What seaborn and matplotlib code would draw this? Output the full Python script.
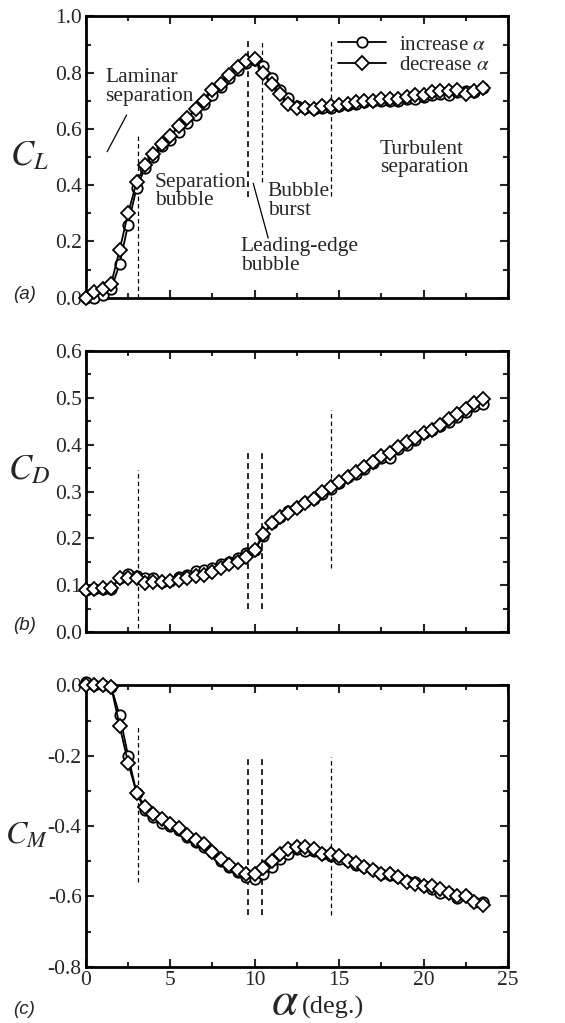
import numpy as np
import pandas as pd
import matplotlib
matplotlib.use('Agg')
import matplotlib.pyplot as plt
from matplotlib.lines import Line2D
from matplotlib.ticker import MultipleLocator, FormatStrFormatter
import seaborn as sns

# angle of attack, 0 to 23.5 deg in 0.5 deg steps
alpha = [0.0, 0.5, 1.0, 1.5, 2.0, 2.5, 3.0, 3.5, 4.0, 4.5, 5.0, 5.5, 6.0, 6.5, 7.0, 7.5,
         8.0, 8.5, 9.0, 9.5, 10.0, 10.5, 11.0, 11.5, 12.0, 12.5, 13.0, 13.5, 14.0, 14.5,
         15.0, 15.5, 16.0, 16.5, 17.0, 17.5, 18.0, 18.5, 19.0, 19.5, 20.0, 20.5, 21.0,
         21.5, 22.0, 22.5, 23.0, 23.5]

cl_inc = [0.0, 0.0, 0.01, 0.03, 0.12, 0.26, 0.39, 0.46, 0.50, 0.54, 0.56, 0.59, 0.62, 0.65,
          0.69, 0.72, 0.75, 0.78, 0.81, 0.835, 0.845, 0.825, 0.78, 0.74, 0.71, 0.68, 0.675,
          0.67, 0.675, 0.675, 0.68, 0.685, 0.69, 0.695, 0.70, 0.70, 0.70, 0.70, 0.705, 0.705,
          0.715, 0.72, 0.725, 0.72, 0.73, 0.735, 0.73, 0.745]
cl_dec = [0.0, 0.02, 0.03, 0.05, 0.17, 0.30, 0.41, 0.47, 0.51, 0.545, 0.575, 0.61, 0.64, 0.67,
          0.70, 0.74, 0.76, 0.79, 0.82, 0.84, 0.85, 0.80, 0.76, 0.725, 0.69, 0.675, 0.675,
          0.67, 0.68, 0.68, 0.685, 0.69, 0.695, 0.70, 0.70, 0.705, 0.705, 0.705, 0.715, 0.72,
          0.72, 0.73, 0.735, 0.735, 0.74, 0.725, 0.735, 0.745]

cd_inc = [0.091, 0.092, 0.092, 0.093, 0.115, 0.125, 0.12, 0.115, 0.115, 0.108, 0.11, 0.117,
          0.122, 0.13, 0.132, 0.137, 0.145, 0.15, 0.158, 0.168, 0.175, 0.205, 0.232, 0.245,
          0.258, 0.268, 0.278, 0.285, 0.295, 0.305, 0.318, 0.33, 0.338, 0.348, 0.36, 0.372,
          0.372, 0.39, 0.40, 0.41, 0.425, 0.432, 0.44, 0.448, 0.46, 0.47, 0.482, 0.487]
cd_dec = [0.09, 0.092, 0.094, 0.095, 0.115, 0.115, 0.115, 0.105, 0.108, 0.108, 0.11, 0.112,
          0.115, 0.12, 0.123, 0.128, 0.138, 0.145, 0.15, 0.16, 0.175, 0.21, 0.232, 0.245,
          0.255, 0.265, 0.275, 0.285, 0.30, 0.31, 0.32, 0.33, 0.342, 0.352, 0.362, 0.375,
          0.382, 0.395, 0.405, 0.415, 0.425, 0.432, 0.443, 0.455, 0.465, 0.475, 0.488, 0.497]

cm_inc = [0.01, 0.0, 0.0, -0.005, -0.085, -0.20, -0.305, -0.355, -0.375, -0.39, -0.40, -0.41,
          -0.43, -0.445, -0.46, -0.475, -0.50, -0.515, -0.53, -0.545, -0.55, -0.535, -0.515,
          -0.495, -0.48, -0.465, -0.47, -0.47, -0.48, -0.485, -0.495, -0.50, -0.51, -0.515,
          -0.525, -0.535, -0.54, -0.545, -0.555, -0.56, -0.57, -0.58, -0.59, -0.59, -0.605,
          -0.60, -0.615, -0.615]
cm_dec = [0.0, 0.0, 0.0, -0.005, -0.115, -0.22, -0.305, -0.345, -0.365, -0.38, -0.395, -0.405,
          -0.425, -0.44, -0.45, -0.475, -0.495, -0.51, -0.525, -0.535, -0.535, -0.52, -0.50,
          -0.48, -0.465, -0.46, -0.46, -0.465, -0.48, -0.48, -0.485, -0.50, -0.505, -0.515,
          -0.525, -0.535, -0.535, -0.545, -0.56, -0.565, -0.57, -0.57, -0.58, -0.59, -0.60,
          -0.60, -0.615, -0.625]

runs = ['increase $\\alpha$', 'decrease $\\alpha$']
regime_alpha = [3.1, 9.6, 10.45, 14.5]

# (ymin, ymax, linewidth) of the dashed regime lines in each panel
cl_vlines = [(0.0, 0.578, 0.9), (0.358, 0.915, 1.2), (0.41, 0.915, 0.9), (0.36, 0.915, 0.9)]
cd_vlines = [(0.01, 0.346, 0.9), (0.05, 0.389, 1.2), (0.05, 0.389, 1.2), (0.137, 0.474, 0.9)]
cm_vlines = [(-0.559, -0.113, 0.9), (-0.652, -0.203, 1.2), (-0.652, -0.203, 1.2), (-0.652, -0.203, 0.9)]

df = pd.DataFrame({
    'alpha': alpha * 2,
    'run': [runs[0]] * len(alpha) + [runs[1]] * len(alpha),
    'CL': cl_inc + cl_dec,
    'CD': cd_inc + cd_dec,
    'CM': cm_inc + cm_dec,
})

sns.set_style('ticks')
plt.rcParams['font.family'] = ['Liberation Serif', 'DejaVu Serif']
plt.rcParams['mathtext.fontset'] = 'stix'
plt.rcParams['axes.unicode_minus'] = False

fig = plt.figure(figsize=(5.65, 10.23), dpi=100)
left, width = 0.152, 0.747
ax_a = fig.add_axes([left, 0.709, width, 0.275])
ax_b = fig.add_axes([left, 0.382, width, 0.275])
ax_c = fig.add_axes([left, 0.055, width, 0.275])

panels = [
    (ax_a, 'CL', (0, 1.0), 0.2, 0.1, cl_vlines, '$C_L$', -0.135, 0.50, 25, '(a)', 0.712),
    (ax_b, 'CD', (0, 0.6), 0.1, 0.05, cd_vlines, '$C_D$', -0.135, 0.575, 25, '(b)', 0.389),
    (ax_c, 'CM', (-0.8, 0.0), 0.2, 0.1, cm_vlines, '$C_M$', -0.14, 0.465, 23, '(c)', 0.013),
]

for ax, col, ylim, major, minor, vls, ylab, ylab_x, ylab_y, ylab_fs, tag, tag_y in panels:
    for a, (y0, y1, lw) in zip(regime_alpha, vls):
        ax.plot([a, a], [y0, y1], color='black', lw=lw, ls=(0, (3.5, 2.5)), zorder=1)
    sns.lineplot(data=df, x='alpha', y=col, hue='run', style='run',
                 markers=['o', 'D'], dashes=False, palette=['black', 'black'],
                 markersize=7.5, linewidth=1.3, legend=False, ax=ax, zorder=3)
    for line in ax.lines[len(vls):]:
        line.set_markerfacecolor('white')
        line.set_markeredgecolor('black')
        line.set_markeredgewidth(1.3)
        line.set_clip_on(False)
    ax.set_xlim(0, 25)
    ax.set_ylim(*ylim)
    ax.xaxis.set_major_locator(MultipleLocator(5))
    ax.xaxis.set_minor_locator(MultipleLocator(2.5))
    ax.yaxis.set_major_locator(MultipleLocator(major))
    ax.yaxis.set_minor_locator(MultipleLocator(minor))
    ax.yaxis.set_major_formatter(FormatStrFormatter('%.1f'))
    ax.tick_params(which='both', direction='in', top=True, right=True, width=1.5,
                   labelsize=15.5, pad=3)
    ax.tick_params(which='major', length=6)
    ax.tick_params(which='minor', length=3.5)
    for sp in ax.spines.values():
        sp.set_linewidth(2)
        sp.set_color('black')
    ax.set_xlabel('')
    ax.set_ylabel('')
    ax.text(ylab_x, ylab_y, ylab, transform=ax.transAxes, fontsize=ylab_fs,
            ha='center', va='center')
    fig.text(0.023, tag_y, tag, fontsize=13.5, family='Liberation Sans',
             style='italic', ha='left', va='center')

ax_a.tick_params(labelbottom=False)
ax_b.tick_params(labelbottom=False)

# legend
handles = [Line2D([], [], color='black', lw=1.3, marker=m, markersize=7.5,
                  markerfacecolor='white', markeredgewidth=1.3) for m in ['o', 'D']]
ax_a.legend(handles, runs, loc='upper right', frameon=False, fontsize=15,
            handlelength=2.3, handletextpad=0.6, borderaxespad=0.5, labelspacing=0.05)

# annotations in panel (a)
kw = dict(fontsize=15.5, ha='left', va='top', linespacing=0.95)
ax_a.text(1.13, 0.815, 'Laminar\nseparation', **kw)
ax_a.text(4.09, 0.445, 'Separation\nbubble', **kw)
ax_a.text(10.78, 0.41, 'Bubble\nburst', **kw)
ax_a.text(9.18, 0.215, 'Leading-edge\nbubble', **kw)
ax_a.text(17.42, 0.56, 'Turbulent\nseparation', **kw)
ax_a.plot([1.26, 2.41], [0.519, 0.649], color='black', lw=0.9)
ax_a.plot([9.91, 10.8], [0.407, 0.212], color='black', lw=0.9)

# x axis label
fig.text(0.505, 0.009, '$\\alpha$', fontsize=34, ha='center', va='baseline')
fig.text(0.535, 0.009, '(deg.)', fontsize=19, ha='left', va='baseline')

plt.savefig('out.png', dpi=100)
